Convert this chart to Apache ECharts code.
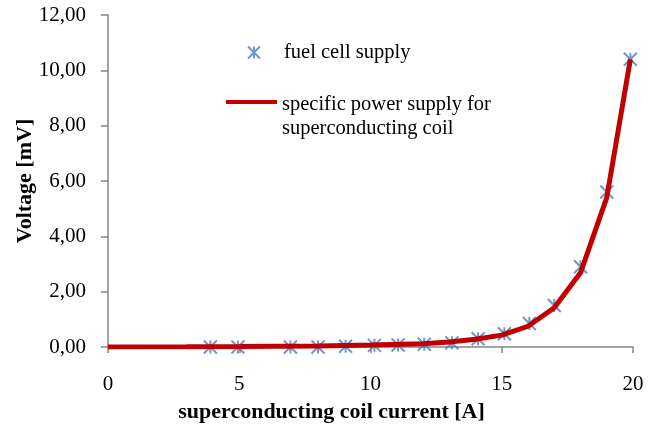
<!DOCTYPE html>
<html><head><meta charset="utf-8">
<script src="https://cdn.jsdelivr.net/npm/echarts@6/dist/echarts.min.js"></script>
<style>html,body{margin:0;padding:0;background:#fff}#c{width:658px;height:428px}</style>
</head><body><div id="c"></div>
<script>
const xTicks = [0, 5, 10, 15, 20];
const yTicks = [0, 2, 4, 6, 8, 10, 12];
const fuelX = [3.9, 4.95, 6.95, 8.0, 9.05, 10.15, 11.05, 12.05, 13.1, 14.1, 15.1, 16.05, 17.0, 18.0, 19.0, 19.9];
const fuelY = [0.0, 0.0, 0.0, 0.0, 0.03, 0.06, 0.07, 0.1, 0.15, 0.3, 0.48, 0.85, 1.5, 2.9, 5.6, 10.4];
const supplyX = [0, 3, 5, 8, 10, 12, 13, 14, 15, 16, 17, 18, 19, 19.9];
const supplyY = [0, 0.01, 0.02, 0.04, 0.07, 0.12, 0.18, 0.28, 0.43, 0.75, 1.42, 2.68, 5.4, 10.4];
const fuelName = 'fuel cell supply';
const supplyName = 'specific power supply for\nsuperconducting coil';

const font = 'Liberation Serif';
const axisColor = '#868686';
const starPath = 'path://M0,0 L10,10 M10,0 L0,10 M5,0 L5,10';
const chart = echarts.init(document.getElementById('c'), null, {renderer: 'canvas'});
chart.setOption({
  animation: false,
  textStyle: {fontFamily: font},
  grid: {left: 108, right: 25, top: 15, bottom: 81},
  legend: [
    {data: [{name: fuelName, icon: starPath}], padding: 0,
     left: 247, top: 42, itemWidth: 12, itemHeight: 12,
     textStyle: {fontFamily: font, fontSize: 20.5, color: '#000', padding: [0, 0, 0, 19]}},
    {data: [{name: supplyName, icon: 'path://M0,0 L51,0 L51,4 L0,4 Z M0,33.9 L0.01,34 L0,34 Z'}],
     padding: 0, left: 226, top: 93, itemWidth: 51, itemHeight: 34,
     itemStyle: {color: '#c00000', borderWidth: 0},
     textStyle: {fontFamily: font, fontSize: 20.5, color: '#000', lineHeight: 24}}
  ],
  xAxis: {
    type: 'value', min: xTicks[0], max: xTicks[xTicks.length - 1], interval: 5,
    name: 'superconducting coil current [A]', nameLocation: 'middle', nameGap: 54,
    nameMoveOverlap: false,
    nameTextStyle: {fontFamily: font, fontSize: 22, fontWeight: 'bold', color: '#000', padding: [0, 78, 0, 0]},
    axisLine: {show: true, lineStyle: {color: axisColor, width: 1.5}},
    axisTick: {show: true, inside: false, length: 6, lineStyle: {color: axisColor, width: 1.5}},
    axisLabel: {fontFamily: font, fontSize: 21, color: '#000', margin: 27},
    splitLine: {show: false}
  },
  yAxis: {
    type: 'value', min: yTicks[0], max: yTicks[yTicks.length - 1], interval: 2,
    name: 'Voltage [mV]', nameLocation: 'middle', nameGap: 72, nameRotate: 90,
    nameMoveOverlap: false,
    nameTextStyle: {fontFamily: font, fontSize: 22, fontWeight: 'bold', color: '#000'},
    axisLine: {show: true, lineStyle: {color: axisColor, width: 1.5}},
    axisTick: {show: true, inside: false, length: 7, lineStyle: {color: axisColor, width: 1.5}},
    axisLabel: {fontFamily: font, fontSize: 21, color: '#000', margin: 22,
      formatter: v => v.toFixed(2).replace('.', ',')},
    splitLine: {show: false}
  },
  series: [
    {
      name: fuelName, type: 'scatter', z: 2,
      symbol: starPath, symbolSize: 13,
      itemStyle: {color: 'rgba(0,0,0,0)', borderColor: '#4a7ebb', borderWidth: 2},
      data: fuelX.map((x, i) => [x, fuelY[i]])
    },
    {
      name: supplyName, type: 'line', z: 3, symbol: 'none', smooth: false,
      lineStyle: {color: '#c00000', width: 5},
      itemStyle: {color: '#c00000'},
      data: supplyX.map((x, i) => [x, supplyY[i]])
    }
  ]
});
</script></body></html>
